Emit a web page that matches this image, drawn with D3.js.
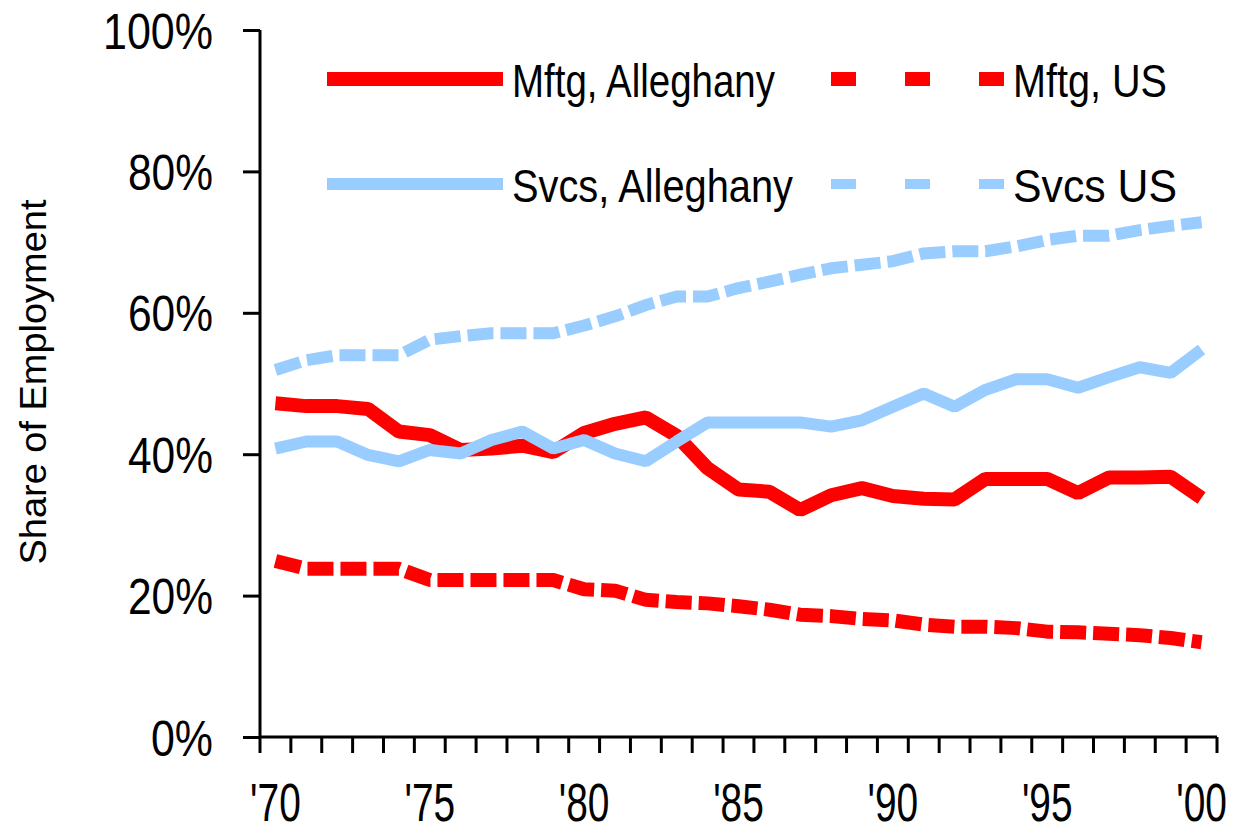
<!DOCTYPE html>
<html>
<head>
<meta charset="utf-8">
<script src="https://cdn.jsdelivr.net/npm/d3@7"></script>
<style>
  body { margin: 0; background: #fff; }
  text { font-family: "Liberation Sans", Arial, sans-serif; fill: #000; }
</style>
</head>
<body>
<svg id="chart"></svg>
<script>
const width = 1234;
const height = 835;

// data (share of employment, %)
const years = [1970, 1971, 1972, 1973, 1974, 1975, 1976, 1977, 1978, 1979,
  1980, 1981, 1982, 1983, 1984, 1985, 1986, 1987, 1988, 1989,
  1990, 1991, 1992, 1993, 1994, 1995, 1996, 1997, 1998, 1999, 2000];
const mftgAlleghany = [47.2, 46.8, 46.8, 46.4, 43.2, 42.7, 40.6, 40.8, 41.2, 40.3,
  43.0, 44.3, 45.2, 42.6, 38.0, 35.0, 34.7, 32.1, 34.2, 35.2,
  34.1, 33.7, 33.6, 36.5, 36.5, 36.5, 34.5, 36.7, 36.7, 36.8, 33.8];
const mftgUS = [24.9, 23.8, 23.8, 23.8, 23.8, 22.2, 22.2, 22.2, 22.2, 22.2,
  20.9, 20.7, 19.4, 19.1, 18.9, 18.5, 18.0, 17.3, 17.1, 16.7,
  16.5, 15.9, 15.6, 15.6, 15.4, 14.9, 14.8, 14.6, 14.4, 14.0, 13.4];
const svcsAlleghany = [40.8, 41.8, 41.8, 39.9, 39.0, 40.6, 40.1, 42.0, 43.2, 40.8,
  42.0, 40.1, 39.0, 41.8, 44.5, 44.5, 44.5, 44.5, 43.9, 44.8,
  46.7, 48.6, 46.7, 49.1, 50.6, 50.6, 49.4, 50.9, 52.3, 51.5, 54.8];
const svcsUS = [51.9, 53.3, 54.0, 54.0, 54.0, 56.2, 56.7, 57.1, 57.1, 57.1,
  58.2, 59.5, 61.1, 62.3, 62.3, 63.5, 64.4, 65.4, 66.3, 66.8,
  67.3, 68.4, 68.7, 68.7, 69.4, 70.3, 70.9, 70.9, 71.7, 72.3, 72.8];
const yTicks = [0, 20, 40, 60, 80, 100];
const xLabelYears = [1970, 1975, 1980, 1985, 1990, 1995, 2000];
const xLabels = ["'70", "'75", "'80", "'85", "'90", "'95", "'00"];

const series = [
  { name: "Mftg, Alleghany", values: mftgAlleghany, color: "#ff0000", dashed: false, w: 14 },
  { name: "Mftg, US", values: mftgUS, color: "#ff0000", dashed: true, w: 14 },
  { name: "Svcs, Alleghany", values: svcsAlleghany, color: "#99ccff", dashed: false, w: 12 },
  { name: "Svcs US", values: svcsUS, color: "#99ccff", dashed: true, w: 12 }
];

const svg = d3.select('#chart')
  .attr('width', width)
  .attr('height', height);

const plotLeft = 260, plotRight = 1217, plotTop = 30, plotBottom = 737;

// categories sit between tick marks, like Excel
const x = d3.scaleBand()
  .domain(years)
  .range([plotLeft, plotRight]);
const y = d3.scaleLinear()
  .domain([0, 100])
  .range([plotBottom, plotTop]);

// y axis
const yAxis = svg.append("g")
  .attr("transform", `translate(${plotLeft},0)`)
  .call(d3.axisLeft(y).tickValues(yTicks).tickSize(17).tickPadding(30).tickFormat(d => d + "%"));
yAxis.select(".domain").attr("stroke", "#000").attr("stroke-width", 3).attr("d", `M0,${plotTop}V${plotBottom}`);
yAxis.selectAll(".tick line").attr("stroke", "#000").attr("stroke-width", 3);
yAxis.selectAll(".tick text")
  .attr("font-size", 50)
  .attr("font-family", "Liberation Sans, Arial, sans-serif")
  .attr("dy", "0.36em")
  .attr("textLength", d => d === 100 ? 110 : d === 0 ? 62 : 85)
  .attr("lengthAdjust", "spacingAndGlyphs");

// x axis: ticks on the band edges, labels every 5 years
const xAxis = svg.append("g").attr("transform", `translate(0,${plotBottom})`);
xAxis.append("line")
  .attr("x1", plotLeft).attr("x2", plotRight)
  .attr("stroke", "#000").attr("stroke-width", 3);
xAxis.selectAll(".xt")
  .data(years.concat([null]))
  .join("line")
  .attr("class", "xt")
  .attr("x1", (d, i) => i < years.length ? x(d) : plotRight)
  .attr("x2", (d, i) => i < years.length ? x(d) : plotRight)
  .attr("y1", 0).attr("y2", 16)
  .attr("stroke", "#000").attr("stroke-width", 3);
// narrow labels: squeeze horizontally
xAxis.selectAll(".xl")
  .data(xLabelYears)
  .join("text")
  .attr("class", "xl")
  .attr("transform", d => `translate(${x(d) + x.bandwidth() / 2},84) scale(0.72,1)`)
  .attr("text-anchor", "middle")
  .attr("font-size", 54)
  .text((d, i) => xLabels[i]);

// y title
svg.append("text")
  .attr("transform", "translate(46,382) rotate(-90)")
  .attr("text-anchor", "middle")
  .attr("font-size", 37)
  .attr("textLength", 365)
  .attr("lengthAdjust", "spacingAndGlyphs")
  .text("Share of Employment");

// lines
const line = d3.line()
  .x((d, i) => x(years[i]) + x.bandwidth() / 2)
  .y(d => y(d));

svg.selectAll(".series")
  .data(series)
  .join("path")
  .attr("class", "series")
  .attr("d", d => line(d.values))
  .attr("fill", "none")
  .attr("stroke", d => d.color)
  .attr("stroke-width", d => d.w)
  .attr("stroke-linejoin", "bevel")
  .attr("stroke-dasharray", d => d.dashed ? "26,7" : null);

// legend
const legendPos = [
  { x: 327, y: 79, tx: 512, tw: 263 },
  { x: 831, y: 79, tx: 1013, tw: 154 },
  { x: 327, y: 184, tx: 512, tw: 281 },
  { x: 831, y: 184, tx: 1013, tw: 164 }
];
const legend = svg.selectAll(".legend")
  .data(series)
  .join("g")
  .attr("class", "legend");
legend.append("line")
  .attr("x1", (d, i) => legendPos[i].x)
  .attr("x2", (d, i) => legendPos[i].x + 176)
  .attr("y1", (d, i) => legendPos[i].y)
  .attr("y2", (d, i) => legendPos[i].y)
  .attr("stroke", d => d.color)
  .attr("stroke-width", d => d.dashed ? (d.color === "#ff0000" ? 14 : 10) : (d.color === "#ff0000" ? 14 : 12))
  .attr("stroke-dasharray", d => d.dashed ? "25,49" : null);
legend.append("text")
  .attr("x", (d, i) => legendPos[i].tx)
  .attr("y", (d, i) => legendPos[i].y + 18)
  .attr("font-size", 46)
  .attr("textLength", (d, i) => legendPos[i].tw)
  .attr("lengthAdjust", "spacingAndGlyphs")
  .text(d => d.name);
</script>
</body>
</html>
